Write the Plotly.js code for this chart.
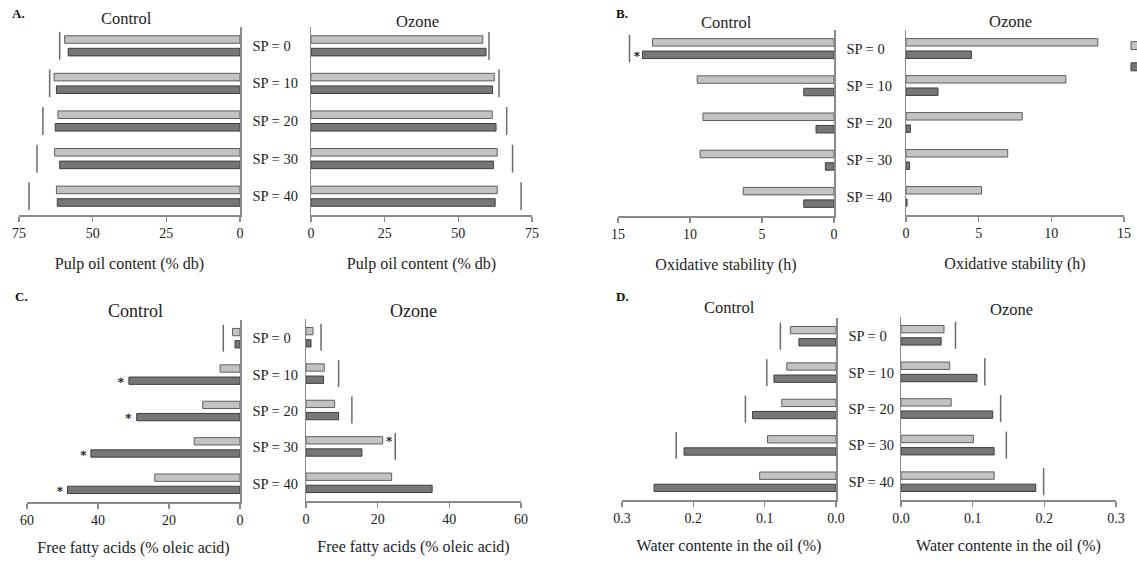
<!DOCTYPE html>
<html><head><meta charset="utf-8">
<script src="https://cdn.plot.ly/plotly-3.0.1.min.js"></script>
<style>html,body{margin:0;padding:0;background:#fff}#chart{width:1137px;height:563px}</style>
</head><body><div id="chart"></div>
<script>
// ---- data ----
const categories = ['SP = 0', 'SP = 10', 'SP = 20', 'SP = 30', 'SP = 40'];
const seriesNames = ['', ''];   // legend labels lie outside the visible picture
const panelLetters = ['A.', 'B.', 'C.', 'D.'];
const groupTitles = ['Control', 'Ozone'];
const axisTitles = ['Pulp oil content (% db)', 'Oxidative stability (h)', 'Free fatty acids (% oleic acid)', 'Water contente in the oil (%)'];
const axisMax = [75, 15, 60, 0.3];
const axisStep = [25, 5, 20, 0.1];
const axisFormat = ['d', 'd', 'd', '.1f'];

// A. Pulp oil content
const A_ctrl_light = [59.5, 63.1, 61.8, 62.9, 62.3];
const A_ctrl_dark  = [58.3, 62.3, 62.7, 61.2, 62.0];
const A_ctrl_lsd   = [61.2, 64.6, 66.9, 68.9, 71.6];
const A_oz_light   = [58.3, 62.2, 61.5, 63.2, 63.2];
const A_oz_dark    = [59.4, 61.6, 62.8, 61.9, 62.5];
const A_oz_lsd     = [60.4, 63.8, 66.4, 68.4, 71.3];
// B. Oxidative stability
const B_ctrl_light = [12.6, 9.5, 9.1, 9.3, 6.3];
const B_ctrl_dark  = [13.3, 2.1, 1.25, 0.6, 2.1];
const B_ctrl_lsd   = [14.2, null, null, null, null];
const B_ctrl_starDark = [13.7, null, null, null, null];
const B_oz_light   = [13.2, 11.0, 8.0, 7.0, 5.2];
const B_oz_dark    = [4.5, 2.2, 0.3, 0.25, 0.07];
// C. Free fatty acids
const C_ctrl_light = [2.1, 5.6, 10.5, 12.9, 24.0];
const C_ctrl_dark  = [1.4, 31.3, 29.1, 42.0, 48.6];
const C_ctrl_lsd   = [4.7, null, null, null, null];
const C_ctrl_starDark = [null, 33.6, 31.5, 44.2, 50.8];
const C_oz_light   = [1.95, 5.1, 8.0, 21.4, 23.9];
const C_oz_dark    = [1.4, 4.9, 9.1, 15.6, 35.2];
const C_oz_lsd     = [4.2, 9.1, 12.8, 24.9, null];
const C_oz_starLight = [null, null, null, 23.1, null];
// D. Water content
const D_ctrl_light = [0.064, 0.069, 0.076, 0.096, 0.107];
const D_ctrl_dark  = [0.052, 0.087, 0.117, 0.213, 0.255];
const D_ctrl_lsd   = [0.078, 0.097, 0.127, 0.224, null];
const D_oz_light   = [0.060, 0.068, 0.070, 0.101, 0.130];
const D_oz_dark    = [0.056, 0.106, 0.128, 0.130, 0.188];
const D_oz_lsd     = [0.076, 0.117, 0.139, 0.147, 0.199];

// ---- styling / layout ----
const W = 1137, H = 563;
const FONT = 'Liberation Serif, Times New Roman, serif';
const LIGHT = '#c3c3c3', LIGHT_LINE = '#5e5e5e';
const DARK = '#777777', DARK_LINE = '#3e3e3e';
const AXC = '#8a8a8a';
const BARGAP = 0.33;
const catIdx = categories.map((c, i) => i);

const subs = [
  {light: A_ctrl_light, dark: A_ctrl_dark, lsd: A_ctrl_lsd, box: [19, 240, 27, 215]},
  {light: A_oz_light, dark: A_oz_dark, lsd: A_oz_lsd, box: [311, 532, 27, 215]},
  {light: B_ctrl_light, dark: B_ctrl_dark, lsd: B_ctrl_lsd, starDark: B_ctrl_starDark, box: [618, 834, 30, 216]},
  {light: B_oz_light, dark: B_oz_dark, box: [906, 1124, 30, 215]},
  {light: C_ctrl_light, dark: C_ctrl_dark, lsd: C_ctrl_lsd, starDark: C_ctrl_starDark, box: [27, 240, 320, 502]},
  {light: C_oz_light, dark: C_oz_dark, lsd: C_oz_lsd, starLight: C_oz_starLight, box: [306, 521, 319, 501]},
  {light: D_ctrl_light, dark: D_ctrl_dark, lsd: D_ctrl_lsd, box: [622, 836, 318, 500]},
  {light: D_oz_light, dark: D_oz_dark, lsd: D_oz_lsd, box: [901, 1116, 317, 500]}
];
const titlePos = [
  [[126, 19], [417, 22]], [[726, 23], [1010, 22]],
  [[135, 311], [413, 311]], [[729, 307], [1011, 309]]
];
const letterPos = [[18, 14], [622, 14], [21, 296], [622, 296]];
const titleSize = [16.5, 16.5, 18, 16.5];
const titleStandoff = [17, 17, 14, 14];

const traces = [];
const layout = {
  width: W, height: H,
  margin: {l: 0, r: 0, t: 0, b: 0, autoexpand: false},
  paper_bgcolor: '#ffffff', plot_bgcolor: 'rgba(0,0,0,0)',
  font: {family: FONT, color: '#222', size: 14},
  barmode: 'group', bargap: BARGAP, bargroupgap: 0.4,
  showlegend: true,
  legend: {x: 1115 / W, y: 1 - 30 / H, xanchor: 'left', yanchor: 'top', bgcolor: 'rgba(0,0,0,0)',
           font: {size: 14, family: FONT}, tracegroupgap: 0},
  annotations: [], shapes: []
};
const off = (1 - BARGAP) / 4;

subs.forEach((s, k) => {
  const n = k + 1, p = Math.floor(k / 2), isCtrl = (k % 2 === 0);
  const xa = 'x' + n, ya = 'y' + n;
  const [x0, x1, yt, yb] = s.box;
  traces.push({type: 'bar', orientation: 'h', x: s.light, y: catIdx, xaxis: xa, yaxis: ya,
    showlegend: false, hoverinfo: 'skip',
    marker: {color: LIGHT, line: {color: LIGHT_LINE, width: 1}}});
  traces.push({type: 'bar', orientation: 'h', x: s.dark, y: catIdx, xaxis: xa, yaxis: ya,
    showlegend: false, hoverinfo: 'skip',
    marker: {color: DARK, line: {color: DARK_LINE, width: 1}}});
  if (s.lsd) {
    const lx = [], ly = [];
    s.lsd.forEach((v, i) => { if (v !== null) { lx.push(v, v, null); ly.push(i - 0.37, i + 0.37, null); } });
    traces.push({type: 'scatter', mode: 'lines', x: lx, y: ly, xaxis: xa, yaxis: ya, showlegend: false,
      hoverinfo: 'skip', line: {color: '#6a6a6a', width: 1.5}});
  }
  [['starDark', off], ['starLight', -off]].forEach(([key, o]) => {
    if (s[key]) {
      const sx = [], sy = [];
      s[key].forEach((v, i) => { if (v !== null) { sx.push(v); sy.push(i + o); } });
      traces.push({type: 'scatter', mode: 'text', x: sx, y: sy, text: sx.map(() => '<b>\u2217</b>'),
        textposition: 'middle center', textfont: {size: 12, family: 'DejaVu Serif, serif', color: '#111'},
        xaxis: xa, yaxis: ya, showlegend: false, hoverinfo: 'skip'});
    }
  });
  const xKey = 'xaxis' + (n === 1 ? '' : n), yKey = 'yaxis' + (n === 1 ? '' : n);
  layout[xKey] = {
    domain: [x0 / W, x1 / W], anchor: ya,
    range: isCtrl ? [axisMax[p], 0] : [0, axisMax[p]],
    tick0: 0, dtick: axisStep[p], tickformat: axisFormat[p],
    showline: true, linecolor: AXC, linewidth: 1.5,
    ticks: 'outside', ticklen: 5, tickwidth: 1.5, tickcolor: AXC,
    showgrid: false, zeroline: false,
    tickfont: {size: 14, family: FONT, color: '#222'},
    title: {text: axisTitles[p], standoff: titleStandoff[p], font: {size: 16, family: FONT, color: '#222'}}
  };
  layout[yKey] = {
    domain: [1 - yb / H, 1 - yt / H], anchor: xa,
    side: isCtrl ? 'right' : 'left',
    range: [categories.length - 0.5, -0.5],
    tickvals: catIdx, ticktext: categories,
    showticklabels: isCtrl, ticks: '', ticklabelstandoff: 8,
    showline: true, linecolor: AXC, linewidth: 1.5,
    showgrid: false, zeroline: false,
    tickfont: {size: 14.5, family: FONT, color: '#222'}
  };
  const tp = titlePos[p][k % 2];
  layout.annotations.push({text: groupTitles[k % 2], xref: 'paper', yref: 'paper',
    x: tp[0] / W, y: 1 - tp[1] / H, xanchor: 'center', yanchor: 'middle', showarrow: false,
    font: {size: titleSize[p], family: FONT, color: '#222'}});
});
panelLetters.forEach((t, p) => {
  layout.annotations.push({text: '<b>' + t + '</b>', xref: 'paper', yref: 'paper',
    x: letterPos[p][0] / W, y: 1 - letterPos[p][1] / H, xanchor: 'center', yanchor: 'middle',
    showarrow: false, font: {size: 13, family: FONT, color: '#111'}});
});
// legend swatches at the right edge (their labels fall outside the picture in the source)
seriesNames.forEach((nm, i) => {
  traces.push({type: 'scatter', mode: 'markers', x: [null], y: [null], xaxis: 'x4', yaxis: 'y4',
    name: nm, showlegend: true, hoverinfo: 'skip',
    marker: {symbol: 'square', size: 8, color: i === 0 ? LIGHT : DARK,
             line: {color: i === 0 ? LIGHT_LINE : DARK_LINE, width: 1}}});
});

Plotly.newPlot('chart', traces, layout, {displayModeBar: false, staticPlot: true});
</script>
</body></html>
